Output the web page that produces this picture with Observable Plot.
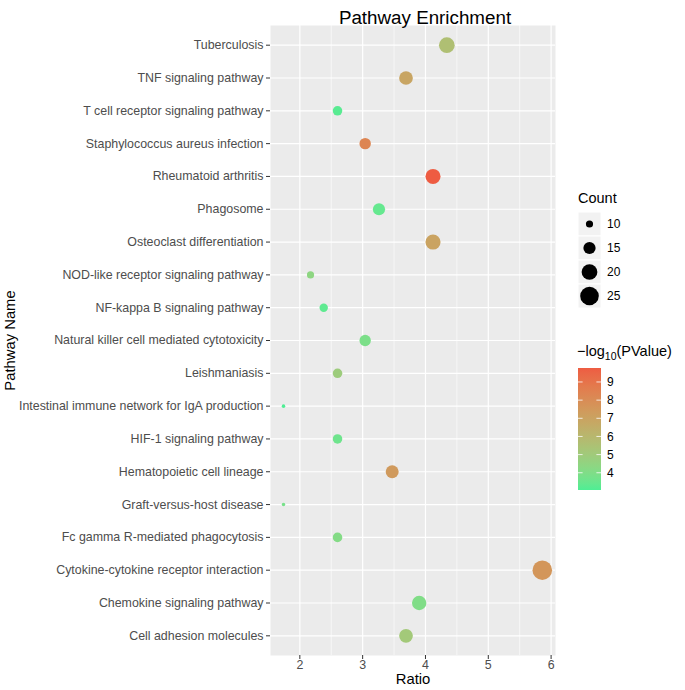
<!DOCTYPE html>
<html>
<head>
<meta charset="utf-8">
<script src="https://cdn.jsdelivr.net/npm/d3@7"></script>
<script src="https://cdn.jsdelivr.net/npm/@observablehq/plot@0.6"></script>
<style>
  html, body { margin: 0; padding: 0; background: white; }
  #chart { width: 685px; height: 690px; }
</style>
</head>
<body>
<div id="chart"></div>
<script>
// ---- data (top to bottom as displayed) ----
const pathways = [
  "Tuberculosis",
  "TNF signaling pathway",
  "T cell receptor signaling pathway",
  "Staphylococcus aureus infection",
  "Rheumatoid arthritis",
  "Phagosome",
  "Osteoclast differentiation",
  "NOD-like receptor signaling pathway",
  "NF-kappa B signaling pathway",
  "Natural killer cell mediated cytotoxicity",
  "Leishmaniasis",
  "Intestinal immune network for IgA production",
  "HIF-1 signaling pathway",
  "Hematopoietic cell lineage",
  "Graft-versus-host disease",
  "Fc gamma R-mediated phagocytosis",
  "Cytokine-cytokine receptor interaction",
  "Chemokine signaling pathway",
  "Cell adhesion molecules"
];
const ratio = [4.34, 3.69, 2.60, 3.04, 4.12, 3.26, 4.12, 2.17, 2.38, 3.04, 2.60, 1.74, 2.60, 3.47, 1.74, 2.60, 5.86, 3.90, 3.69];
const count = [20, 17, 12, 14, 19, 15, 19, 10, 11, 14, 12, 8, 12, 16, 8, 12, 27, 18, 17];
const negLog10P = [5.6, 6.9, 3.2, 8.3, 9.77, 3.4, 7.0, 4.4, 3.3, 3.9, 4.9, 3.05, 3.6, 7.4, 3.8, 4.1, 7.6, 4.0, 5.1];

const xTicks = [2, 3, 4, 5, 6];
const xMinor = [2.5, 3.5, 4.5, 5.5];
const sizeBreaks = [10, 15, 20, 25];
const colorBreaks = [4, 5, 6, 7, 8, 9];

const rows = pathways.map((p, i) => ({pathway: p, ratio: ratio[i], count: count[i], logp: negLog10P[i]}));

// ggplot-like size: area linear over the count limits
const cMin = d3.min(count), cMax = d3.max(count);
const areaOffset = cMin - (cMax - cMin) / 30;

const FONT = "'Liberation Sans', Arial, Helvetica, sans-serif";

const chart = Plot.plot({
  width: 685,
  height: 690,
  marginLeft: 270,
  marginRight: 130,
  marginTop: 25,
  marginBottom: 35,
  style: {fontFamily: FONT, fontSize: "12px", background: "white", overflow: "visible"},
  x: {domain: [1.533, 6.07]},
  y: {type: "point", domain: pathways, padding: 0.6, round: false},
  r: {type: "sqrt", domain: [0, cMax - areaOffset], range: [0, 9.8]},
  color: {type: "linear", domain: [3.05, 9.77], range: ["#4EEE94", "#EE5C42"], interpolate: "lab"},
  marks: [
    Plot.frame({fill: "#EBEBEB", stroke: null}),
    Plot.ruleX(xMinor, {stroke: "white", strokeWidth: 0.6}),
    Plot.ruleX(xTicks, {stroke: "white", strokeWidth: 1.2}),
    Plot.ruleY(pathways, {stroke: "white", strokeWidth: 1.2}),
    Plot.dot(rows, {x: "ratio", y: "pathway", r: d => d.count - areaOffset, fill: "logp", stroke: null, fillOpacity: 1}),
    Plot.axisX({ticks: xTicks, tickFormat: d3.format("d"), tickSize: 4, tickPadding: 1, fontSize: 12.4, stroke: "#333333", fill: "#4D4D4D", label: null}),
    Plot.axisY({tickSize: 4, tickPadding: 3, fontSize: 12.4, stroke: "#333333", fill: "#4D4D4D", label: null}),
    Plot.text(["Pathway Enrichment"], {frameAnchor: "top", dx: 12, dy: -15, fontSize: 18.8, fill: "black", textAnchor: "middle"}),
    Plot.text(["Ratio"], {frameAnchor: "bottom", dy: 28.5, fontSize: 14.8, fill: "black", textAnchor: "middle"}),
    Plot.text(["Pathway Name"], {frameAnchor: "left", dx: -260, rotate: -90, fontSize: 14.8, fill: "black", textAnchor: "middle"})
  ]
});
document.getElementById("chart").appendChild(chart);

// ---- legends, drawn from the plot's own scales ----
const svg = d3.select(chart);
const rScale = chart.scale("r");
const cScale = chart.scale("color");
const lg = svg.append("g").attr("font-family", FONT).attr("fill", "black").attr("text-anchor", "start");

// size legend
lg.append("text").attr("x", 578).attr("y", 198).attr("dy", "0.35em").attr("font-size", 14.5).text("Count");
sizeBreaks.forEach((v, i) => {
  const cy = 224 + i * 24;
  lg.append("rect").attr("x", 578).attr("y", cy - 12).attr("width", 23).attr("height", 24)
    .attr("fill", "#F2F2F2").attr("stroke", "white").attr("stroke-width", 1);
  lg.append("circle").attr("cx", 589.5).attr("cy", cy).attr("r", rScale.apply(v - areaOffset)).attr("fill", "black");
  lg.append("text").attr("x", 607).attr("y", cy).attr("dy", "0.35em").attr("font-size", 12).text(v);
});

// color legend
const ct = lg.append("text").attr("x", 577).attr("y", 351).attr("dy", "0.35em").attr("font-size", 14.5);
ct.append("tspan").text("\u2212log");
ct.append("tspan").attr("font-size", 10.5).attr("dy", 4).text("10");
ct.append("tspan").attr("dy", -4).text("(PValue)");

const [d0, d1] = cScale.domain;
const barTop = 368, barBottom = 490, barX = 578, barW = 23;
const by = d3.scaleLinear().domain([d0, d1]).range([barBottom, barTop]);
const grad = svg.append("defs").append("linearGradient").attr("id", "cbar")
  .attr("x1", 0).attr("y1", 1).attr("x2", 0).attr("y2", 0);
d3.range(0, 1.0001, 0.05).forEach(t => {
  grad.append("stop").attr("offset", t).attr("stop-color", cScale.apply(d0 + t * (d1 - d0)));
});
lg.append("rect").attr("x", barX).attr("y", barTop).attr("width", barW).attr("height", barBottom - barTop).attr("fill", "url(#cbar)");
colorBreaks.forEach(v => {
  const y = by(v);
  lg.append("line").attr("x1", barX).attr("x2", barX + 4.6).attr("y1", y).attr("y2", y).attr("stroke", "white").attr("stroke-opacity", 0.8);
  lg.append("line").attr("x1", barX + barW - 4.6).attr("x2", barX + barW).attr("y1", y).attr("y2", y).attr("stroke", "white").attr("stroke-opacity", 0.8);
  lg.append("text").attr("x", 607).attr("y", y).attr("dy", "0.35em").attr("font-size", 12).text(v);
});
</script>
</body>
</html>
